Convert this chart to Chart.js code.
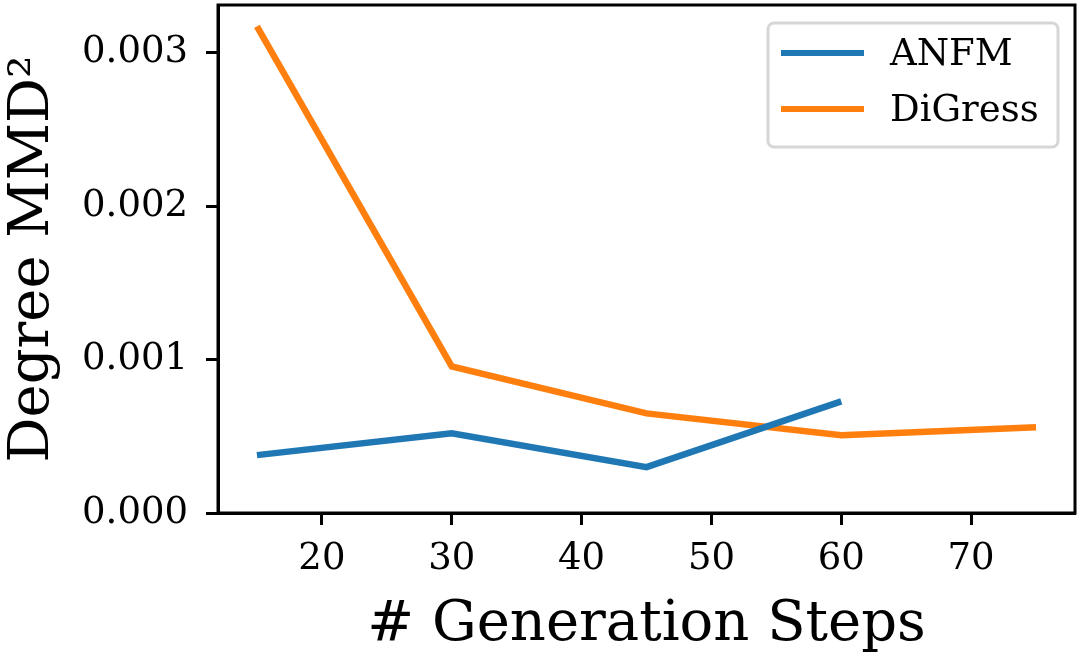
<!DOCTYPE html>
<html>
<head>
<meta charset="utf-8">
<script src="https://cdn.jsdelivr.net/npm/chart.js@4.4.0/dist/chart.umd.min.js"></script>
<style>
  html, body { margin: 0; padding: 0; background: #fff; }
  #wrap { width: 1080px; height: 661px; }
</style>
</head>
<body>
<div id="wrap"><canvas id="chart" width="1080" height="661"></canvas></div>
<script>
// data
var steps = [15, 30, 45, 60, 75];
var anfmValues = [0.000377, 0.00052, 0.000299, 0.000727];
var digressValues = [0.00317, 0.000955, 0.000649, 0.000506, 0.000558];
var seriesNames = ['ANFM', 'DiGress'];
var xTicks = [20, 30, 40, 50, 60, 70];
var yTicks = [0, 0.001, 0.002, 0.003];

var FONT = '"DejaVu Serif", serif';

function points(xs, ys) {
    return ys.map(function (v, i) { return { x: xs[i], y: v }; });
}

// box round the plot (matplotlib spines)
var framePlugin = {
    id: 'frame',
    afterDatasetsDraw: function (chart) {
        var a = chart.chartArea, ctx = chart.ctx;
        ctx.save();
        ctx.strokeStyle = '#000';
        ctx.lineWidth = 3;
        ctx.strokeRect(a.left, a.top, a.right - a.left, a.bottom - a.top);
        ctx.restore();
    }
};

// legend box in the upper right, matplotlib style
var legendPlugin = {
    id: 'mplLegend',
    afterDraw: function (chart) {
        var ctx = chart.ctx;
        var x0 = 768, y0 = 23, w = 290, h = 124;
        ctx.save();
        ctx.fillStyle = 'rgba(255,255,255,0.8)';
        ctx.strokeStyle = '#d6d6d6';
        ctx.lineWidth = 3;
        ctx.beginPath();
        ctx.roundRect(x0, y0, w, h, 6);
        ctx.fill();
        ctx.stroke();
        ctx.font = '37px ' + FONT;
        ctx.textBaseline = 'middle';
        chart.data.datasets.forEach(function (ds, i) {
            var y = 53 + i * 56;
            ctx.strokeStyle = ds.borderColor;
            ctx.lineWidth = 6;
            ctx.beginPath();
            ctx.moveTo(781, y);
            ctx.lineTo(864, y);
            ctx.stroke();
            ctx.fillStyle = '#000';
            ctx.fillText(ds.label, 890, y + 2);
        });
        ctx.restore();
    }
};

new Chart(document.getElementById('chart'), {
    type: 'line',
    data: {
        datasets: [{
            label: seriesNames[0],
            data: points(steps, anfmValues),
            borderColor: '#1f77b4',
            borderWidth: 6.5,
            pointRadius: 0,
            fill: false
        }, {
            label: seriesNames[1],
            data: points(steps, digressValues),
            borderColor: '#ff7f0e',
            borderWidth: 6.5,
            pointRadius: 0,
            fill: false
        }]
    },
    options: {
        responsive: false,
        animation: false,
        devicePixelRatio: 1,
        layout: { padding: { top: 5, right: 5, left: 0, bottom: 0 } },
        plugins: { legend: { display: false }, tooltip: { enabled: false } },
        scales: {
            x: {
                type: 'linear',
                min: 12,
                max: 78,
                afterBuildTicks: function (axis) {
                    axis.ticks = xTicks.map(function (v) { return { value: v }; });
                },
                afterFit: function (axis) {
                    axis.height = 148;
                    axis.paddingLeft = 0;
                    axis.paddingRight = 0;
                },
                grid: { drawOnChartArea: false, drawTicks: true, tickLength: 12, tickWidth: 3, tickColor: '#000' },
                border: { color: '#000', width: 3 },
                ticks: { color: '#000', font: { family: FONT, size: 37 }, padding: 12, maxRotation: 0 },
                title: { display: true, text: '# Generation Steps', color: '#000', font: { family: FONT, size: 56 }, padding: { top: 0, bottom: 2 } }
            },
            y: {
                min: 0,
                max: 0.00331,
                afterBuildTicks: function (axis) {
                    axis.ticks = yTicks.map(function (v) { return { value: v }; });
                },
                afterFit: function (axis) {
                    axis.width = 218;
                    axis.paddingTop = 0;
                    axis.paddingBottom = 0;
                },
                grid: { drawOnChartArea: false, drawTicks: true, tickLength: 12, tickWidth: 3, tickColor: '#000' },
                border: { color: '#000', width: 3 },
                ticks: {
                    color: '#000',
                    font: { family: FONT, size: 37 },
                    padding: 18,
                    callback: function (v) { return Number(v).toFixed(3); }
                },
                title: { display: true, text: 'Degree MMD²', color: '#000', font: { family: FONT, size: 56 }, padding: { top: 0, bottom: 0 } }
            }
        }
    },
    plugins: [framePlugin, legendPlugin]
});
</script>
</body>
</html>
